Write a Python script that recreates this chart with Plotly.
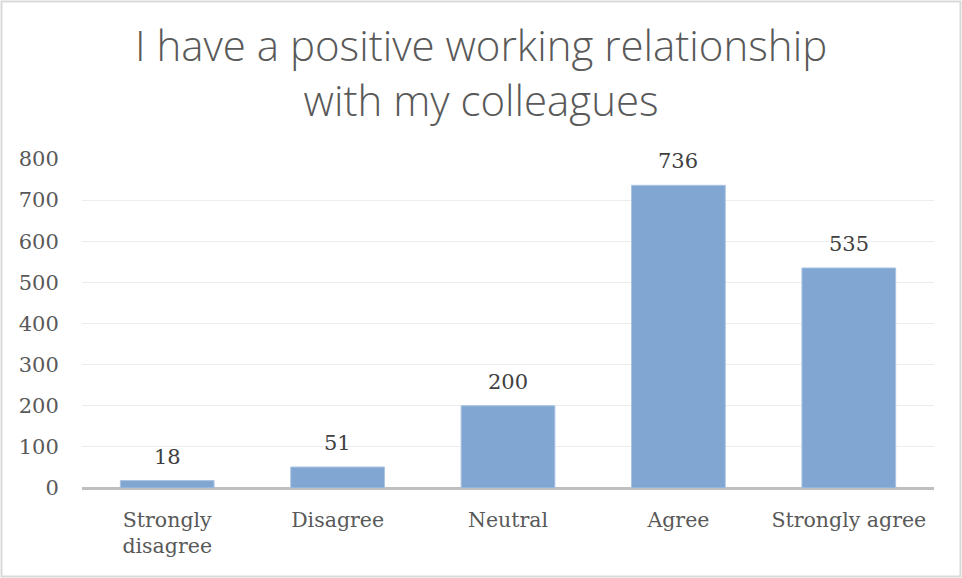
import plotly.graph_objects as go

# Survey responses
categories = ["Strongly<br>disagree", "Disagree", "Neutral", "Agree", "Strongly agree"]
counts = [18, 51, 200, 736, 535]
y_ticks = [0, 100, 200, 300, 400, 500, 600, 700, 800]
title_text = "I have a positive working relationship<br>with my colleagues"

W, H = 962, 578
ML, MR, MT, MB = 82, 28, 159, 90

fig = go.Figure(
    go.Bar(
        x=categories,
        y=counts,
        marker=dict(color="#81A6D1", line=dict(color="#A9C3E2", width=1)),
        hoverinfo="x+y",
    )
)

# Value labels above each bar
for cat, val in zip(categories, counts):
    fig.add_annotation(
        x=cat, y=val, text=str(val), showarrow=False,
        yanchor="bottom", yshift=10,
        font=dict(family="DejaVu Serif, Liberation Serif, serif", size=21, color="#404040"),
    )

pw = W - ML - MR
ph = H - MT - MB

# Chart title, two centred lines
fig.add_annotation(
    text=title_text, xref="paper", yref="paper",
    x=0.5 - (ML - MR) / 2 / pw, xanchor="center",
    y=1 + (MT - 14) / ph, yanchor="top",
    showarrow=False, align="center",
    font=dict(family="Open Sans, sans-serif", size=42, color="#595959", weight=300),
)

# Outer chart border
fig.add_shape(
    type="rect", xref="paper", yref="paper",
    x0=-(ML - 1.5) / pw, x1=1 + (MR - 1.5) / pw,
    y0=-(MB - 1.5) / ph, y1=1 + (MT - 1.5) / ph,
    line=dict(color="#D9D9D9", width=2), layer="below",
)

fig.update_layout(
    width=W, height=H,
    margin=dict(l=ML, r=MR, t=MT, b=MB),
    paper_bgcolor="white", plot_bgcolor="white",
    bargap=0.45,
    showlegend=False,
    xaxis=dict(
        showgrid=False, zeroline=False, showline=False,
        ticks="outside", ticklen=13, tickcolor="rgba(0,0,0,0)",
        tickfont=dict(family="DejaVu Serif, Liberation Serif, serif", size=20.5, color="#595959"),
    ),
    yaxis=dict(
        range=[0, 800], tickvals=y_ticks,
        showgrid=True, gridcolor="#EDEDED", gridwidth=1,
        zeroline=True, zerolinecolor="#BFBFBF", zerolinewidth=3,
        showline=False,
        ticks="outside", ticklen=18, tickcolor="rgba(0,0,0,0)",
        tickfont=dict(family="DejaVu Serif, Liberation Serif, serif", size=21, color="#595959"),
    ),
)

fig.write_html("out.html")
